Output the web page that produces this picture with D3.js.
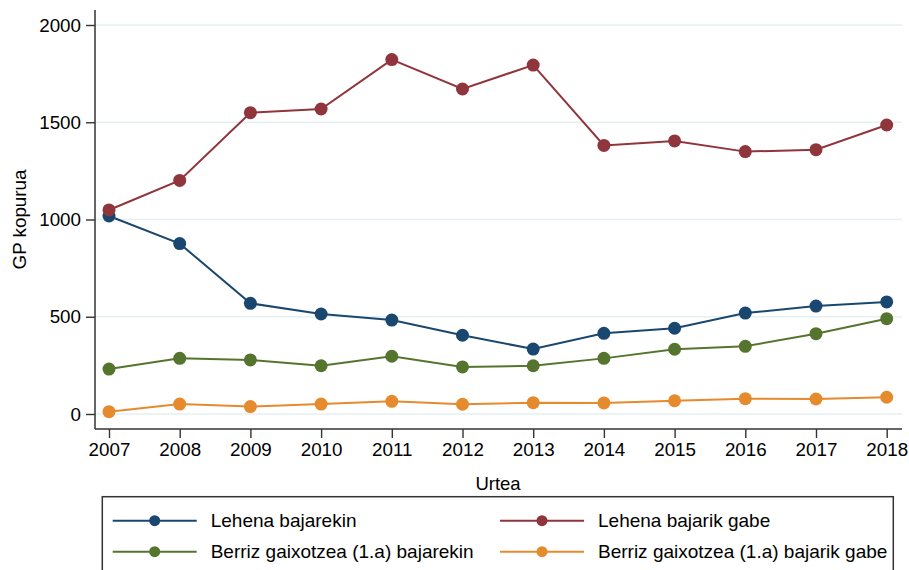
<!DOCTYPE html>
<html>
<head>
<meta charset="utf-8">
<script src="https://cdn.jsdelivr.net/npm/d3@7"></script>
<style>
body { margin: 0; background: #fff; }
svg text { font-family: "Liberation Sans", Arial, Helvetica, sans-serif; fill: #000; }
</style>
</head>
<body>
<svg id="chart" width="909" height="570"></svg>
<script>
const years = [2007, 2008, 2009, 2010, 2011, 2012, 2013, 2014, 2015, 2016, 2017, 2018];
const lehenaBajarekin = [1018, 876, 569, 514, 483, 405, 334, 415, 441, 519, 555, 576];
const lehenaBajarikGabe = [1049, 1201, 1549, 1568, 1822, 1671, 1794, 1381, 1404, 1349, 1359, 1486];
const berrizBajarekin = [231, 286, 278, 248, 297, 242, 248, 286, 333, 348, 413, 490];
const berrizBajarikGabe = [12, 51, 38, 51, 65, 50, 58, 57, 68, 79, 77, 86];
const seriesNames = ["Lehena bajarekin", "Lehena bajarik gabe", "Berriz gaixotzea (1.a) bajarekin", "Berriz gaixotzea (1.a) bajarik gabe"];
const seriesColors = ["#1a476f", "#90353b", "#55752f", "#e68a2e"];
const yTicks = [0, 500, 1000, 1500, 2000];
const xLabel = "Urtea";
const yLabel = "GP kopurua";

const seriesValues = [lehenaBajarekin, lehenaBajarikGabe, berrizBajarekin, berrizBajarikGabe];
const series = seriesNames.map((name, i) => ({
  name, color: seriesColors[i],
  values: years.map((y, j) => ({ year: y, value: seriesValues[i][j] }))
}));

const svg = d3.select("#chart");
const plotLeft = 95, plotRight = 902, plotTop = 10, plotBottom = 429;

const x = d3.scaleLinear().domain([2007, 2018]).range([109, 886.7]);
const y = d3.scaleLinear().domain([0, 2000]).range([414, 25]);

// gridlines
svg.append("g").selectAll("line").data(yTicks).join("line")
  .attr("x1", plotLeft).attr("x2", plotRight)
  .attr("y1", d => y(d)).attr("y2", d => y(d))
  .attr("stroke", "#e6eff1").attr("stroke-width", 1.6);

// y axis
const yAxis = d3.axisLeft(y).tickValues(yTicks).tickSize(9).tickPadding(5).tickFormat(d3.format("d"));
const gy = svg.append("g").attr("transform", `translate(${plotLeft},0)`).call(yAxis);
gy.select(".domain").remove();
gy.selectAll(".tick line").attr("stroke", "#333").attr("stroke-width", 1.4);
gy.selectAll(".tick text").attr("font-size", 18.8).attr("fill", "#000");
svg.append("line").attr("x1", plotLeft).attr("x2", plotLeft).attr("y1", plotTop).attr("y2", plotBottom)
  .attr("stroke", "#333").attr("stroke-width", 1.5);

// x axis
const xAxis = d3.axisBottom(x).tickValues(years).tickSize(9).tickPadding(5).tickFormat(d3.format("d"));
const gx = svg.append("g").attr("transform", `translate(0,${plotBottom})`).call(xAxis);
gx.select(".domain").remove();
gx.selectAll(".tick line").attr("stroke", "#333").attr("stroke-width", 1.4);
gx.selectAll(".tick text").attr("font-size", 18.8).attr("fill", "#000");
svg.append("line").attr("x1", plotLeft).attr("x2", plotRight).attr("y1", plotBottom).attr("y2", plotBottom)
  .attr("stroke", "#333").attr("stroke-width", 1.5);

// axis titles
svg.append("text").attr("x", 498).attr("y", 490).attr("text-anchor", "middle")
  .attr("font-size", 18.5).text(xLabel);
svg.append("text").attr("transform", "translate(26,219.5) rotate(-90)").attr("text-anchor", "middle")
  .attr("font-size", 18.8).text(yLabel);

// lines and markers
const line = d3.line().x(d => x(d.year)).y(d => y(d.value));
series.forEach(s => {
  const g = svg.append("g");
  g.append("path").datum(s.values).attr("d", line).attr("fill", "none")
    .attr("stroke", s.color).attr("stroke-width", 2);
  g.selectAll("circle").data(s.values).join("circle")
    .attr("cx", d => x(d.year)).attr("cy", d => y(d.value)).attr("r", 6.5)
    .attr("fill", s.color);
});

// legend
const lg = svg.append("g");
lg.append("rect").attr("x", 102.3).attr("y", 496.7).attr("width", 791).attr("height", 90)
  .attr("fill", "none").attr("stroke", "#333").attr("stroke-width", 1.5);
const legPos = [
  { lx: 112.7, y: 520.7 }, { lx: 500, y: 520.7 },
  { lx: 112.7, y: 551.7 }, { lx: 500, y: 551.7 }
];
series.forEach((s, i) => {
  const p = legPos[i];
  lg.append("line").attr("x1", p.lx).attr("x2", p.lx + 84).attr("y1", p.y).attr("y2", p.y)
    .attr("stroke", s.color).attr("stroke-width", 2);
  lg.append("circle").attr("cx", p.lx + 42).attr("cy", p.y).attr("r", 5.5).attr("fill", s.color);
  lg.append("text").attr("x", p.lx + 98).attr("y", p.y).attr("dy", "0.35em")
    .attr("font-size", 19).text(s.name);
});
</script>
</body>
</html>
